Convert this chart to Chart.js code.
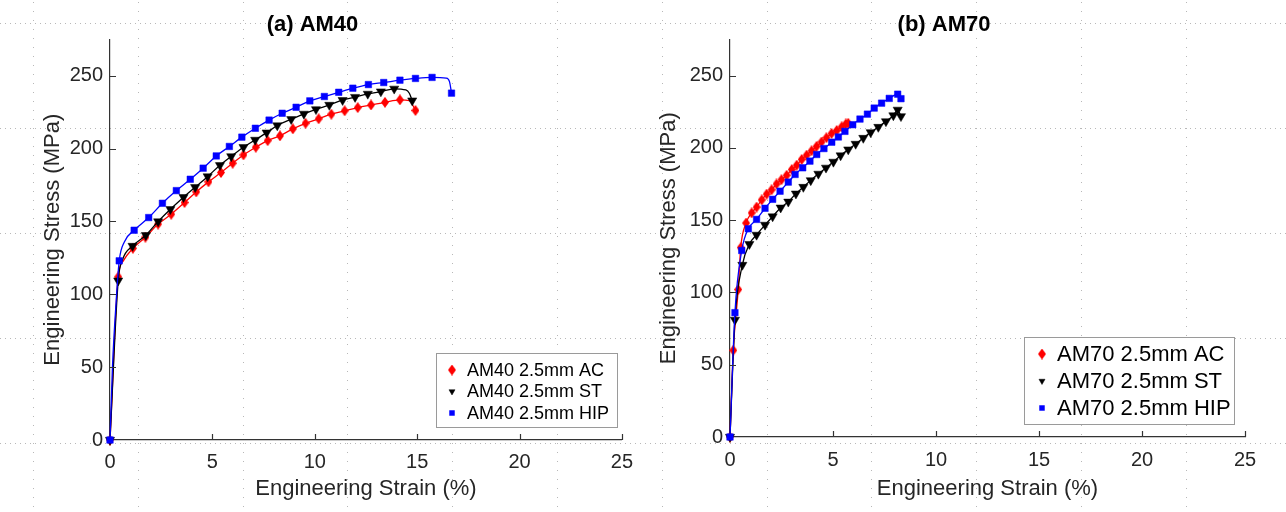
<!DOCTYPE html>
<html>
<head>
<meta charset="utf-8">
<script src="https://cdn.jsdelivr.net/npm/chart.js@4.4.0/dist/chart.umd.min.js"></script>
<style>
  html, body { margin: 0; padding: 0; background: #fff; }
  #wrap { position: relative; width: 1286px; height: 512px; overflow: hidden; }
  #bg { position: absolute; left: 0; top: 0; }
  .panel { position: absolute; top: 0; width: 643px; height: 512px; }
</style>
</head>
<body>
<div id="wrap">
  <canvas id="bg" width="1286" height="512"></canvas>
  <div class="panel" style="left:0"><canvas id="chartAM40"></canvas></div>
  <div class="panel" style="left:643px"><canvas id="chartAM70"></canvas></div>
</div>
<script>
// axis ticks
const strainTicks = [0, 5, 10, 15, 20, 25];
const stressTicks = [0, 50, 100, 150, 200, 250];

// AM40 marker points [strain %, stress MPa]
const am40AC = [[0, 0], [0.40, 112], [1.12, 131.6], [1.73, 139.2], [2.35, 148.2], [2.99, 155], [3.64, 163],
  [4.21, 170.3], [4.81, 177.2], [5.42, 183.6], [5.99, 190], [6.52, 195.7], [7.12, 201], [7.70, 205.5],
  [8.30, 208.8], [8.93, 213.6], [9.55, 217.4], [10.19, 220.5], [10.81, 223.7], [11.46, 226], [12.10, 228.2],
  [12.75, 230], [13.43, 231.8], [14.16, 233.5], [14.92, 226.2]];
const am40ST = [[0, 0], [0.40, 109.4], [1.10, 133.2], [1.75, 140.6], [2.35, 150], [2.95, 158.4], [3.59, 166.7],
  [4.16, 173.5], [4.77, 180.9], [5.37, 188.6], [5.92, 194.7], [6.52, 201], [7.09, 206], [7.65, 211],
  [8.17, 215.9], [8.85, 220.2], [9.47, 223.9], [10.06, 227], [10.71, 230], [11.36, 233.3], [11.97, 235.4],
  [12.59, 237.6], [13.23, 239.2], [13.88, 241.1], [14.76, 233]];
const am40HIP = [[0, 0], [0.45, 123], [1.18, 144], [1.89, 152.7], [2.56, 162.5], [3.24, 171.2], [3.92, 179],
  [4.55, 186.6], [5.19, 195], [5.83, 201.5], [6.44, 207.9], [7.10, 214], [7.77, 219.6], [8.41, 224.3],
  [9.09, 228.4], [9.76, 232.8], [10.47, 235.8], [11.17, 238.7], [11.86, 241.5], [12.62, 244], [13.37, 245.4],
  [14.16, 247], [14.92, 248.2], [15.73, 248.9], [16.68, 238.1]];
// points the curves pass through without a marker
const am40ACcurve = [[0.65, 123], [14.62, 233]];
const am40STcurve = [[0.62, 124], [14.45, 240.3], [14.62, 238]];
const am40HIPcurve = [[0.12, 50], [0.30, 95], [0.70, 136], [16.42, 248.4], [16.58, 246]];

// AM70 marker points [strain %, stress MPa]
const am70AC = [[0, 0], [0.16, 60], [0.40, 102], [0.52, 131], [0.78, 148], [1.05, 155], [1.29, 159],
  [1.54, 164], [1.78, 168], [2.02, 171], [2.26, 175], [2.50, 178], [2.75, 181], [3.00, 185], [3.24, 188],
  [3.48, 192], [3.72, 195], [3.96, 198], [4.20, 201], [4.44, 204], [4.68, 207], [4.93, 210], [5.18, 212],
  [5.42, 214.5], [5.62, 216.5], [5.74, 217]];
const am70ST = [[0, 0], [0.24, 81], [0.60, 119], [0.94, 133.4], [1.29, 139.8], [1.70, 146.7], [2.07, 152.5],
  [2.46, 158.6], [2.83, 162.7], [3.20, 168.3], [3.56, 172.9], [3.92, 177.5], [4.29, 182], [4.66, 186.2],
  [5.02, 190.3], [5.37, 194.7], [5.74, 198.8], [6.10, 202.7], [6.47, 206.8], [6.83, 210.7], [7.20, 214.4],
  [7.57, 218.3], [7.93, 222.4], [8.14, 226.3], [8.30, 221.8]];
const am70HIP = [[0, 0], [0.24, 86], [0.57, 129], [0.89, 144], [1.29, 150.5], [1.70, 158.2], [2.07, 164.4],
  [2.43, 170], [2.83, 176.3], [3.16, 181.6], [3.53, 186.2], [3.88, 190.8], [4.21, 195.4], [4.56, 199.5],
  [4.94, 203.9], [5.26, 207.5], [5.58, 211.4], [5.96, 216], [6.31, 219.9], [6.67, 223.3], [7.00, 227.5],
  [7.36, 230.9], [7.73, 234.2], [8.14, 237.1], [8.30, 234]];
const am70ACcurve = [];
const am70STcurve = [];
const am70HIPcurve = [];

const am40Labels = ['AM40 2.5mm AC', 'AM40 2.5mm ST', 'AM40 2.5mm HIP'];
const am70Labels = ['AM70 2.5mm AC', 'AM70 2.5mm ST', 'AM70 2.5mm HIP'];

const family = "'Liberation Sans', Arial, Helvetica, sans-serif";
const axisColor = '#333333';
const textColor = '#262626';
Chart.defaults.font.family = family;

// dotted page grid behind both panels
const bg = document.getElementById('bg').getContext('2d');
bg.fillStyle = '#b8b8b8';
for (let k = 0; k < 13; k++) {
  const gx = Math.round(33 + 104.8 * k);
  for (let gy = 2; gy < 512; gy += 9) bg.fillRect(gx, gy, 1, 1);
}
for (let k = 0; k < 5; k++) {
  const gy = Math.round(23 + 105 * k);
  for (let gx = 0; gx < 1286; gx += 5) bg.fillRect(gx, gy, 1, 1);
}

function diamond(color, w, h) {
  const c = document.createElement('canvas');
  c.width = w; c.height = h;
  const g = c.getContext('2d');
  g.fillStyle = color;
  g.beginPath();
  g.moveTo(w / 2, 0); g.lineTo(w, h / 2); g.lineTo(w / 2, h); g.lineTo(0, h / 2);
  g.closePath(); g.fill();
  return c;
}

const styles = [
  { color: '#ff0000', pointStyle: diamond('#ff0000', 8, 11), rotation: 0, radius: 4.5 },
  { color: '#000000', pointStyle: 'triangle', rotation: 180, radius: 5.3 },
  { color: '#0000ff', pointStyle: 'rect', rotation: 0, radius: 4.6 }
];

const toXY = pts => pts.map(p => ({ x: p[0], y: p[1] }));

function buildDatasets(series, curves, labels) {
  const out = [];
  series.forEach((marks, i) => {
    const st = styles[i];
    const linePts = marks.concat(curves[i]).sort((a, b) => a[0] - b[0]);
    out.push({
      label: '',
      data: toXY(linePts),
      showLine: true,
      borderColor: st.color,
      borderWidth: 1.3,
      pointRadius: 0,
      cubicInterpolationMode: 'monotone',
      fill: false,
      clip: false,
      order: (2 - i) * 2 + 1
    });
    out.push({
      label: labels[i],
      data: toXY(marks),
      showLine: false,
      pointStyle: st.pointStyle,
      pointRotation: st.rotation,
      pointRadius: st.radius,
      pointBackgroundColor: st.color,
      pointBorderColor: st.color,
      pointBorderWidth: 0.5,
      clip: false,
      order: (2 - i) * 2
    });
  });
  return out;
}

// tick marks pointing into the plot, like the original
const inwardTicks = {
  id: 'inwardTicks',
  afterDatasetsDraw(chart) {
    const { ctx, chartArea, scales } = chart;
    ctx.save();
    ctx.strokeStyle = axisColor;
    ctx.lineWidth = 1.2;
    ctx.beginPath();
    scales.x.ticks.forEach(t => {
      if (t.value === 0) return;
      const px = Math.round(scales.x.getPixelForValue(t.value)) + 0.5;
      ctx.moveTo(px, chartArea.bottom);
      ctx.lineTo(px, chartArea.bottom - 6);
    });
    scales.y.ticks.forEach(t => {
      if (t.value === 0) return;
      const py = Math.round(scales.y.getPixelForValue(t.value)) + 0.5;
      ctx.moveTo(chartArea.left, py);
      ctx.lineTo(chartArea.left + 6, py);
    });
    ctx.stroke();
    ctx.restore();
  }
};

// boxed legend inside the plot area
const boxLegend = {
  id: 'boxLegend',
  afterDraw(chart, args, o) {
    const { ctx } = chart;
    const items = chart.data.datasets.filter(d => d.label);
    ctx.save();
    ctx.fillStyle = '#ffffff';
    ctx.fillRect(o.left, o.top, o.width, o.height);
    ctx.strokeStyle = '#9a9a9a';
    ctx.lineWidth = 1;
    ctx.strokeRect(o.left + 0.5, o.top + 0.5, o.width, o.height);
    items.forEach((d, i) => {
      const cy = o.top + o.firstRow + i * o.rowStep;
      ctx.fillStyle = d.pointBackgroundColor;
      ctx.strokeStyle = d.pointBorderColor;
      ctx.lineWidth = 0.5;
      Chart.helpers.drawPoint(ctx, {
        pointStyle: d.pointStyle, radius: o.markerRadius, rotation: d.pointRotation, borderWidth: 0.5
      }, o.markerX, cy);
      ctx.fillStyle = '#000000';
      ctx.font = o.fontSize + 'px ' + family;
      ctx.textBaseline = 'middle';
      ctx.textAlign = 'left';
      ctx.fillText(d.label, o.textX, cy + 1);
    });
    ctx.restore();
  }
};

function makeChart(id, title, datasets, L) {
  return new Chart(document.getElementById(id), {
    type: 'scatter',
    data: { datasets },
    plugins: [inwardTicks, boxLegend],
    options: {
      responsive: true,
      maintainAspectRatio: false,
      animation: false,
      events: [],
      layout: { padding: { left: 0, right: L.rightPad, top: 0, bottom: 0 } },
      plugins: {
        legend: { display: false },
        tooltip: { enabled: false },
        title: {
          display: true, text: title, color: '#000000',
          font: { size: 22, weight: 'bold' },
          padding: { top: 12, bottom: 1 }
        },
        boxLegend: L.legend
      },
      scales: {
        x: {
          type: 'linear', min: 0, max: 25,
          afterBuildTicks: s => { s.ticks = strainTicks.map(v => ({ value: v })); },
          afterFit: s => { s.height = L.xHeight; },
          grid: { display: false, drawTicks: false },
          border: { display: true, color: axisColor, width: 1.2 },
          ticks: { color: textColor, font: { size: 20 }, padding: L.xTickPad, maxRotation: 0, autoSkip: false },
          title: {
            display: true, text: 'Engineering Strain (%)', color: textColor,
            font: { size: 22 }, padding: { top: 0, bottom: 10 }
          }
        },
        y: {
          type: 'linear', min: 0, max: 275,
          afterBuildTicks: s => { s.ticks = stressTicks.map(v => ({ value: v })); },
          afterFit: s => { s.width = L.yWidth; },
          grid: { display: false, drawTicks: false },
          border: { display: true, color: axisColor, width: 1.2 },
          ticks: { color: textColor, font: { size: 20 }, padding: 7, autoSkip: false },
          title: {
            display: true, text: 'Engineering Stress (MPa)', color: textColor,
            font: { size: 22 }, padding: { top: L.yTitlePad, bottom: 0 }
          }
        }
      }
    }
  });
}

makeChart('chartAM40', '(a) AM40',
  buildDatasets([am40AC, am40ST, am40HIP], [am40ACcurve, am40STcurve, am40HIPcurve], am40Labels),
  {
    rightPad: 18, xHeight: 72, yWidth: 110, xTickPad: 10, yTitlePad: 40,
    legend: { left: 436, top: 353, width: 181, height: 74, firstRow: 17, rowStep: 21.5,
      markerX: 452, textX: 467, fontSize: 18, markerRadius: 3.5 }
  });

makeChart('chartAM70', '(b) AM70',
  buildDatasets([am70AC, am70ST, am70HIP], [am70ACcurve, am70STcurve, am70HIPcurve], am70Labels),
  {
    rightPad: 41, xHeight: 75, yWidth: 87, xTickPad: 11, yTitlePad: 13,
    legend: { left: 381, top: 337, width: 210, height: 87, firstRow: 17, rowStep: 27,
      markerX: 399, textX: 414, fontSize: 22, markerRadius: 3.5 }
  });
</script>
</body>
</html>
